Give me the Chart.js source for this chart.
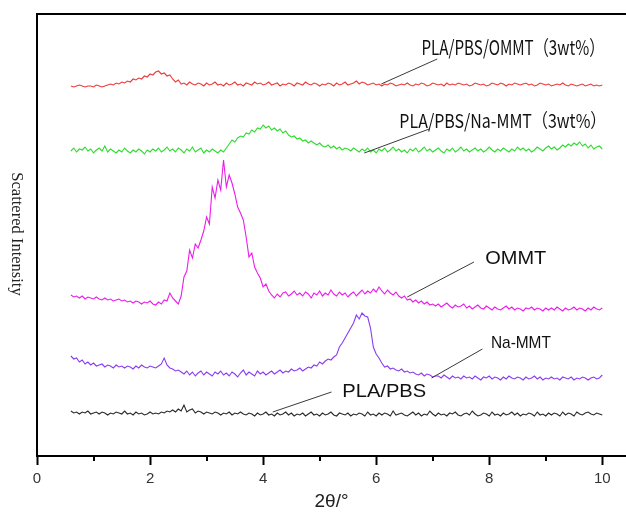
<!DOCTYPE html>
<html>
<head>
<meta charset="utf-8">
<script src="https://cdn.jsdelivr.net/npm/chart.js@4/dist/chart.umd.min.js"></script>
<style>
html,body{margin:0;padding:0;background:#fff;}
#c{display:block;}
</style>
</head>
<body>
<canvas id="c" width="626" height="513"></canvas>
<script>
// 2θ grid: from 0.6° to 10.0° in 0.05° steps (189 points)
const thetaStart = 0.6;
const thetaStep = 0.05;

// Scattered intensity (arbitrary units, curves offset vertically as in the figure)
const plaPbsOmmt = [
370,369,370,371,370,369,370,370,369,371,
370,369,370,371,372,371,373,372,374,373,
375,374,377,376,378,377,380,379,382,381,
384,385,382,383,380,381,377,374,376,372,
373,371,374,372,371,373,372,370,373,371,
372,374,371,372,370,373,371,372,374,371,
372,370,373,372,371,374,372,373,371,372,
374,371,372,373,370,372,371,373,372,370,
373,372,371,374,372,371,373,372,370,372,
371,373,372,370,373,371,372,374,371,372,
373,375,372,374,373,371,372,373,371,372,
370,372,371,373,372,370,371,372,371,373,
371,370,372,371,373,372,370,371,373,372,
371,372,370,373,371,372,371,373,372,371,
372,370,371,373,372,371,372,370,371,373,
372,371,373,372,370,372,371,373,372,371,
372,373,371,372,370,371,373,372,371,372,
370,371,372,371,373,371,370,372,371,370,
371,372,370,371,372,370,371,370,371];

const plaPbsNaMmt = [
305,308,304,307,306,309,305,307,303,306,
308,305,310,304,307,305,303,306,304,308,
305,303,306,304,307,305,302,306,304,307,
305,308,304,306,309,305,307,304,308,306,
303,307,305,309,304,306,308,303,306,304,
307,305,303,306,304,308,312,316,314,318,
320,319,323,322,326,324,328,327,331,328,
330,326,328,325,327,323,325,321,319,320,
317,318,315,316,313,315,313,311,313,310,
309,311,308,310,307,309,306,308,307,305,
308,306,304,307,305,308,304,306,303,307,
305,308,304,306,309,305,307,304,306,303,
307,305,308,304,306,309,305,307,304,306,
308,305,303,307,305,308,304,306,309,305,
307,304,306,308,305,307,304,306,309,306,
304,307,305,308,306,304,307,305,309,306,
308,305,307,304,306,309,307,305,308,310,
307,309,306,308,311,309,312,310,313,311,
314,310,312,308,311,307,309,310,307];

const ommt = [
161,159,160,158,160,157,159,158,157,159,
157,156,158,156,157,155,156,157,155,156,
154,155,153,155,154,152,154,153,155,152,
151,154,152,156,155,163,158,155,152,160,
179,185,206,198,212,208,216,225,239,232,
269,258,276,266,296,269,281,273,262,249,
243,236,219,199,203,189,183,178,169,172,
165,161,158,162,159,163,164,160,162,165,
161,163,160,164,162,158,163,161,165,160,
163,161,166,162,160,164,161,163,159,162,
164,160,163,166,162,165,163,167,164,169,
165,162,166,163,161,164,160,158,160,156,
157,154,156,153,155,152,154,151,152,150,
152,149,151,153,150,148,151,149,150,152,
148,150,147,149,151,148,147,150,148,146,
149,147,146,148,150,147,149,146,148,147,
145,148,147,149,146,148,147,145,148,146,
148,146,149,147,145,148,146,147,149,146,
148,147,145,148,146,149,147,146,148];

const naMmt = [
100,97,98,94,96,92,94,91,93,90,
91,92,89,91,90,88,91,89,90,88,
90,89,87,90,88,91,89,88,90,89,
88,90,92,98,91,88,87,85,86,84,
82,85,81,84,80,83,85,81,84,82,
80,84,82,85,81,83,80,84,82,79,
83,86,81,84,82,80,85,82,84,81,
83,85,82,84,86,83,85,84,87,85,
86,88,85,87,89,88,91,90,94,92,
95,97,96,99,101,109,113,118,123,128,
133,141,137,143,140,139,128,109,102,98,
93,89,90,87,88,86,85,87,84,85,
83,84,82,81,83,80,82,81,79,80,
80,78,81,79,77,80,78,79,77,80,
78,79,77,80,78,76,79,78,80,77,
79,78,76,79,77,80,78,77,79,78,
76,79,77,78,80,77,79,76,78,77,
79,77,78,76,79,78,77,79,76,78,
77,79,78,76,78,79,77,78,81];

const plaPbs = [
45,43,44,42,44,43,45,42,43,44,
42,44,43,41,43,42,44,43,42,45,
42,43,41,44,42,43,41,42,44,42,
43,42,44,43,45,44,46,44,47,45,
51,44,46,47,43,45,44,42,44,43,
42,44,43,41,43,42,44,41,43,42,
44,42,41,43,42,40,43,41,42,44,
41,42,40,43,41,42,44,41,43,40,
42,41,43,40,42,44,41,42,40,43,
41,42,44,41,40,43,42,41,43,40,
42,41,43,42,40,44,41,42,40,43,
41,43,42,40,45,41,42,43,41,40,
42,44,41,43,40,42,41,45,42,40,
43,41,42,40,43,42,44,41,40,42,
43,41,45,42,40,41,43,42,40,44,
41,42,40,43,41,42,44,41,43,40,
42,41,43,42,40,44,41,42,40,43,
41,43,42,40,44,41,43,42,40,44,
42,41,43,44,42,41,43,42,41];

const seriesNames = ['PLA/PBS/OMMT(3wt%)','PLA/PBS/Na-MMT(3wt%)','OMMT','Na-MMT','PLA/PBS'];
const seriesColors = ['#f03a3a','#2fdc2f','#ec1cec','#8a3cf2','#2a2a2a'];
const seriesValues = [plaPbsOmmt, plaPbsNaMmt, ommt, naMmt, plaPbs];

const xTickStep = 1;
const xMin = 0, xMax = 10.42;
const yMin = 0, yMax = 442;

// annotation labels (text, anchor in data units, leader line endpoints in data units)
const annotations = [
  {text:'PLA/PBS/OMMT（3wt%）', x:6.80, y:409, w:183, font:'20px "Noto Sans CJK SC"', line:[7.08,397,6.09,372]},
  {text:'PLA/PBS/Na-MMT（3wt%）', x:6.41, y:335, w:207, font:'19px "Noto Sans CJK SC"', line:[6.94,327,5.79,303]},
  {text:'OMMT', x:7.93, y:197, w:61, font:'19px "Liberation Sans", Arial', line:[7.73,194,6.55,159]},
  {text:'Na-MMT', x:8.03, y:113, w:60, font:'17px "Liberation Sans", Arial', line:[7.88,107,6.98,78]},
  {text:'PLA/PBS', x:5.40, y:64.5, w:84, font:'19px "Liberation Sans", Arial', line:[5.21,64,4.17,44]}
];

const twoTheta = plaPbs.map((_, i) => +(thetaStart + i * thetaStep).toFixed(2));

const datasets = seriesValues.map((vals, k) => ({
  label: seriesNames[k],
  data: vals.map((v, i) => ({x: twoTheta[i], y: v})),
  borderColor: seriesColors[k],
  borderWidth: 1.1,
  pointRadius: 0,
  tension: 0,
  fill: false
}));

const decor = {
  id: 'decor',
  afterDraw(chart) {
    const {ctx, chartArea, scales} = chart;
    const xs = scales.x, ys = scales.y;
    ctx.save();
    // top frame line
    ctx.strokeStyle = '#000';
    ctx.lineWidth = 2;
    ctx.beginPath();
    ctx.moveTo(chartArea.left - 1, chartArea.top);
    ctx.lineTo(chartArea.right, chartArea.top);
    ctx.stroke();
    // minor ticks
    xs.ticks.forEach(t => {
      if (Math.round(t.value) % 2 !== 0) {
        const px = Math.round(xs.getPixelForValue(t.value));
        ctx.beginPath();
        ctx.moveTo(px, chartArea.bottom);
        ctx.lineTo(px, chartArea.bottom + 5);
        ctx.stroke();
      }
    });
    // y title (reads top to bottom)
    ctx.fillStyle = '#222';
    ctx.font = '16.5px "Liberation Serif", "Times New Roman", serif';
    ctx.textAlign = 'center';
    ctx.textBaseline = 'middle';
    ctx.translate(chartArea.left - 21, (chartArea.top + chartArea.bottom) / 2 - 1);
    ctx.rotate(Math.PI / 2);
    ctx.fillText('Scattered Intensity', 0, 0);
    ctx.restore();

    // annotations
    ctx.save();
    annotations.forEach(a => {
      ctx.strokeStyle = '#3a3a3a';
      ctx.lineWidth = 1;
      ctx.beginPath();
      ctx.moveTo(xs.getPixelForValue(a.line[0]), ys.getPixelForValue(a.line[1]));
      ctx.lineTo(xs.getPixelForValue(a.line[2]), ys.getPixelForValue(a.line[3]));
      ctx.stroke();
      ctx.font = a.font;
      ctx.fillStyle = '#111';
      ctx.textAlign = 'left';
      ctx.textBaseline = 'middle';
      const m = ctx.measureText(a.text).width;
      const px = xs.getPixelForValue(a.x), py = ys.getPixelForValue(a.y);
      ctx.save();
      ctx.translate(px, py);
      ctx.scale(a.w / m, 1);
      ctx.fillText(a.text, 0, 0);
      ctx.restore();
    });
    ctx.restore();
  }
};

new Chart(document.getElementById('c'), {
  type: 'line',
  data: { datasets },
  options: {
    responsive: false,
    animation: false,
    devicePixelRatio: 1,
    layout: { padding: { left: 37, top: 14, right: 0, bottom: 0 } },
    plugins: { legend: { display: false }, tooltip: { enabled: false } },
    scales: {
      x: {
        type: 'linear',
        min: xMin, max: xMax,
        afterFit: s => { s.height = 57; },
        ticks: {
          stepSize: xTickStep,
          includeBounds: false,
          autoSkip: false,
          maxRotation: 0,
          padding: 5,
          color: '#333',
          font: { family: '"Liberation Sans", Arial, sans-serif', size: 15 },
          callback: v => (Math.round(v) % 2 === 0 ? String(Math.round(v)) : '')
        },
        grid: {
          display: true,
          drawOnChartArea: false,
          drawTicks: true,
          tickLength: 9,
          tickWidth: 2,
          tickColor: c => (c.tick && Math.round(c.tick.value) % 2 === 0 ? '#000' : 'rgba(0,0,0,0)')
        },
        border: { display: true, color: '#000', width: 2 },
        title: {
          display: true,
          text: '2θ/°',
          color: '#222',
          font: { family: '"Liberation Sans", Arial, sans-serif', size: 19 },
          padding: { top: 0, bottom: 0 }
        }
      },
      y: {
        min: yMin, max: yMax,
        afterFit: s => { s.width = 0; },
        ticks: { display: false },
        grid: { display: false },
        border: { display: true, color: '#000', width: 2 }
      }
    }
  },
  plugins: [decor]
});
</script>
</body>
</html>
